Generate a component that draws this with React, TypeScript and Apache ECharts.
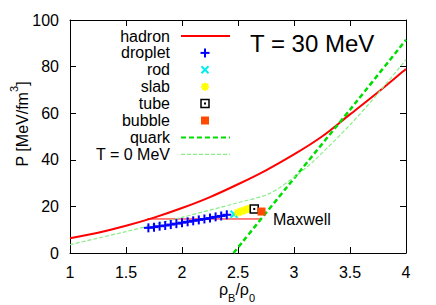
import React, { useEffect, useRef } from "react";
import * as echarts from "echarts";

const hadronRho = [1, 1.25, 1.5, 1.75, 2, 2.25, 2.5, 2.75, 3, 3.25, 3.5, 3.75, 4];
const hadronP = [6.3, 8.7, 11.7, 15.2, 19.3, 24, 29.5, 35.5, 42.3, 50, 59.5, 69, 79];

const quarkRho = [2.46, 3, 3.5, 4];
const quarkP = [0, 32, 61.5, 91.5];

const t0Rho = [1, 1.5, 2, 2.5, 2.78, 3.0, 3.17, 3.5, 3.75, 4];
const t0P = [3.6, 9.2, 15.3, 21.6, 25.5, 32.5, 39.2, 55, 68.5, 83];

const dropletRho = [1.7, 1.75, 1.8, 1.85, 1.9, 1.95, 2.0, 2.05, 2.1, 2.15, 2.2, 2.25, 2.3, 2.35, 2.4];
const dropletP = [10.8, 11.1, 11.5, 11.8, 12.2, 12.6, 13.0, 13.4, 13.8, 14.2, 14.6, 15.0, 15.5, 15.9, 16.4];

const rodRho = [2.465];
const rodP = [16.6];

const slabRho = [2.5, 2.53, 2.56, 2.59, 2.61];
const slabP = [17.4, 17.9, 18.4, 18.9, 19.2];

const tubeRho = [2.645];
const tubeP = [18.9];

const bubbleRho = [2.71];
const bubbleP = [17.8];

const maxwellRho = [1.69, 2.71];
const maxwellP = [14.6, 14.6];

const legendLabels = ["hadron", "droplet", "rod", "slab", "tube", "bubble", "quark", "T = 0 MeV"];

const FONT = "Liberation Sans, Arial, Helvetica, sans-serif";
const RED = "#ff0000";
const QUARK = "#00dd00";
const T0 = "#88ee88";

const zip = (a: number[], b: number[]) => a.map((v, i) => [v, b[i]]);

type Kind = "plus" | "cross" | "star" | "tube" | "bubble";

function markerShapes(kind: Kind, x: number, y: number): any[] {
  const ln = (x1: number, y1: number, x2: number, y2: number, stroke: string, w: number) => ({
    type: "line",
    shape: { x1, y1, x2, y2 },
    style: { stroke, lineWidth: w },
    silent: true,
  });
  if (kind === "plus") {
    const c = "#0000ff";
    return [ln(x - 4.5, y, x + 4.5, y, c, 2), ln(x, y - 4.5, x, y + 4.5, c, 2)];
  }
  if (kind === "cross") {
    const c = "#00eeee";
    return [ln(x - 3.5, y - 3.5, x + 3.5, y + 3.5, c, 2), ln(x - 3.5, y + 3.5, x + 3.5, y - 3.5, c, 2)];
  }
  if (kind === "star") {
    const c = "#ffff00";
    return [
      ln(x - 4, y, x + 4, y, c, 2),
      ln(x, y - 4, x, y + 4, c, 2),
      ln(x - 3, y - 3, x + 3, y + 3, c, 2),
      ln(x - 3, y + 3, x + 3, y - 3, c, 2),
    ];
  }
  if (kind === "tube") {
    return [
      { type: "rect", shape: { x: x - 4, y: y - 4, width: 8, height: 8 }, style: { fill: "#ffffff", stroke: "#000", lineWidth: 1.5 }, silent: true },
      { type: "rect", shape: { x: x - 1, y: y - 1, width: 2, height: 2 }, style: { fill: "#000" }, silent: true },
    ];
  }
  return [
    { type: "rect", shape: { x: x - 4, y: y - 4, width: 8, height: 8 }, style: { fill: "#ff4a00" }, silent: true },
  ];
}

function markerSeries(name: string, kind: Kind, rho: number[], p: number[]) {
  return {
    name,
    type: "custom",
    coordinateSystem: "cartesian2d",
    data: zip(rho, p),
    encode: { x: 0, y: 1 },
    silent: true,
    z: 5,
    renderItem: (params: any, api: any) => {
      const pt = api.coord([api.value(0), api.value(1)]);
      return { type: "group", children: markerShapes(kind, pt[0], pt[1]) };
    },
  };
}

export default function App() {
  const ref = useRef<HTMLDivElement>(null);
  useEffect(() => {
    if (!ref.current) return;
    const chart = echarts.init(ref.current, undefined, { renderer: "svg" });

    const axisCommon = {
      type: "value" as const,
      axisLine: { show: true, onZero: false, lineStyle: { color: "#000", width: 1 } },
      axisTick: { show: true, inside: true, length: 6, lineStyle: { color: "#000" } },
      splitLine: { show: false },
    };
    const labelStyle = { color: "#000", fontSize: 16, fontFamily: FONT };

    // legend graphic
    const legendTop = 36;
    const legendStep = 16.9;
    const kinds: (Kind | "line" | "dash" | "thin")[] = ["line", "plus", "cross", "star", "tube", "bubble", "dash", "thin"];
    const legendGraphics: any[] = [];
    legendLabels.forEach((lab, i) => {
      const y = legendTop + legendStep * i;
      legendGraphics.push({
        type: "text",
        x: 170,
        y,
        silent: true,
        style: { text: lab, fontSize: 16, fontFamily: FONT, fill: "#000", align: "right", verticalAlign: "middle" },
      });
      const k = kinds[i];
      if (k === "line") {
        legendGraphics.push({ type: "line", shape: { x1: 181, y1: y, x2: 230, y2: y }, style: { stroke: RED, lineWidth: 2 }, silent: true });
      } else if (k === "dash") {
        legendGraphics.push({ type: "line", shape: { x1: 181, y1: y, x2: 230, y2: y }, style: { stroke: QUARK, lineWidth: 2, lineDash: [5, 3] }, silent: true });
      } else if (k === "thin") {
        legendGraphics.push({ type: "line", shape: { x1: 181, y1: y, x2: 230, y2: y }, style: { stroke: T0, lineWidth: 1.2, lineDash: [4, 2] }, silent: true });
      } else {
        legendGraphics.push(...markerShapes(k as Kind, 205, y));
      }
    });

    chart.setOption({
      animation: false,
      grid: { left: 70, right: 30, top: 20, bottom: 52 },
      xAxis: [
        {
          ...axisCommon,
          min: 1,
          max: 4,
          interval: 0.5,
          position: "bottom",
          axisLabel: { ...labelStyle, margin: 11 },
        },
        {
          ...axisCommon,
          min: 1,
          max: 4,
          interval: 0.5,
          position: "top",
          axisLabel: { show: false },
        },
      ],
      yAxis: [
        {
          ...axisCommon,
          min: 0,
          max: 100,
          interval: 20,
          position: "left",
          axisLabel: { ...labelStyle, margin: 11 },
        },
        {
          ...axisCommon,
          min: 0,
          max: 100,
          interval: 20,
          position: "right",
          axisLabel: { show: false },
        },
      ],
      series: [
        {
          name: "hadron",
          type: "line",
          data: zip(hadronRho, hadronP),
          smooth: 0.3,
          showSymbol: false,
          lineStyle: { color: RED, width: 2 },
          silent: true,
          z: 3,
        },
        markerSeries("droplet", "plus", dropletRho, dropletP),
        markerSeries("rod", "cross", rodRho, rodP),
        markerSeries("slab", "star", slabRho, slabP),
        markerSeries("tube", "tube", tubeRho, tubeP),
        markerSeries("bubble", "bubble", bubbleRho, bubbleP),
        {
          name: "quark",
          type: "line",
          data: zip(quarkRho, quarkP),
          smooth: 0.2,
          showSymbol: false,
          lineStyle: { color: QUARK, width: 2.5, type: [5, 3] },
          silent: true,
          z: 4,
        },
        {
          name: "T = 0 MeV",
          type: "line",
          data: zip(t0Rho, t0P),
          smooth: 0.3,
          showSymbol: false,
          lineStyle: { color: T0, width: 1.2, type: [4, 2] },
          silent: true,
          z: 4,
        },
        {
          name: "Maxwell",
          type: "line",
          data: zip(maxwellRho, maxwellP),
          showSymbol: false,
          lineStyle: { color: RED, width: 1 },
          silent: true,
          z: 2,
        },
      ],
      graphic: [
        ...legendGraphics,
        {
          type: "text",
          x: 250,
          y: 43,
          silent: true,
          style: { text: "T = 30 MeV", fontSize: 24, fontFamily: FONT, fill: "#000", align: "left", verticalAlign: "middle" },
        },
        {
          type: "text",
          x: 273,
          y: 219,
          silent: true,
          style: { text: "Maxwell", fontSize: 16, fontFamily: FONT, fill: "#000", align: "left", verticalAlign: "middle" },
        },
        {
          type: "text",
          x: 19,
          y: 124,
          rotation: Math.PI / 2,
          silent: true,
          style: {
            text: "{a|P [MeV/fm}{s|3}{a|]}",
            align: "center",
            verticalAlign: "middle",
            rich: {
              a: { fontSize: 16, fontFamily: FONT, fill: "#000", color: "#000", lineHeight: 22, verticalAlign: "bottom" },
              s: { fontSize: 11, fontFamily: FONT, fill: "#000", color: "#000", lineHeight: 12, verticalAlign: "top" },
            },
          },
        },
        {
          type: "text",
          x: 237,
          y: 292,
          silent: true,
          style: {
            text: "{a|ρ}{b|B}{a|/ρ}{b|0}",
            align: "center",
            verticalAlign: "middle",
            rich: {
              a: { fontSize: 16, fontFamily: FONT, fill: "#000", color: "#000", lineHeight: 22, verticalAlign: "top" },
              b: { fontSize: 11, fontFamily: FONT, fill: "#000", color: "#000", lineHeight: 12, verticalAlign: "bottom" },
            },
          },
        },
      ],
    });
    return () => chart.dispose();
  }, []);
  return <div ref={ref} style={{ width: 436, height: 305, position: "absolute", left: 0, top: 0 }} />;
}
